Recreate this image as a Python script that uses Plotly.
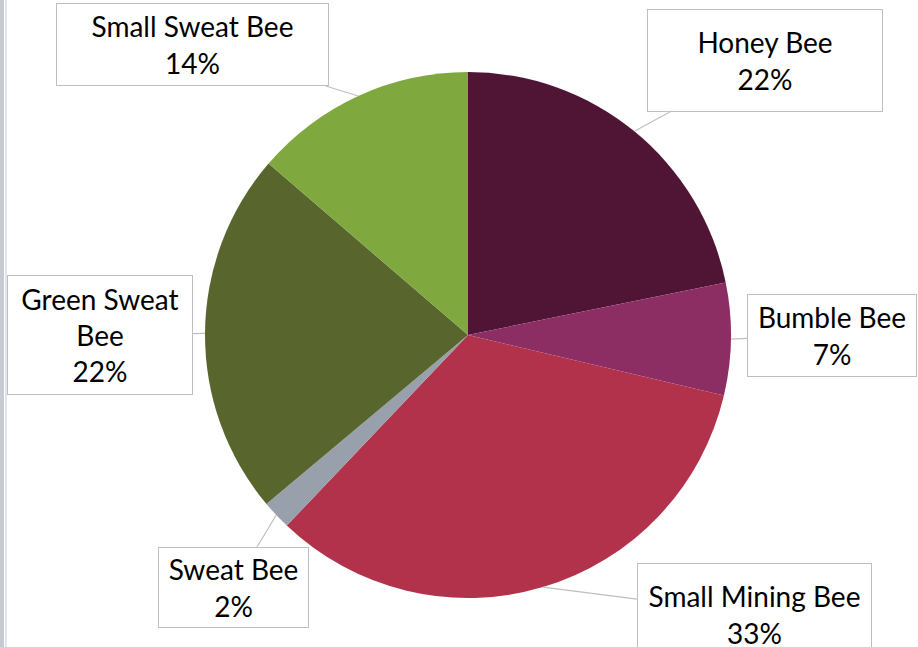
import numpy as np
import plotly.graph_objects as go

# bee share of visits (%), clockwise from 12 o'clock
bees = ["Honey Bee", "Bumble Bee", "Small Mining Bee", "Sweat Bee", "Green Sweat Bee", "Small Sweat Bee"]
share = [21.8, 6.9, 33.4, 1.8, 22.4, 13.7]
colors = ["#501535", "#8c2e64", "#b2324c", "#98a1ab", "#58662e", "#7fa83f"]
box_text = ["Honey Bee", "Bumble Bee", "Small Mining Bee", "Sweat Bee", "Green Sweat<br>Bee", "Small Sweat Bee"]

W, H = 918, 647
cx, cy, r = 468, 335, 263  # pie centre / radius in px

# callout boxes: centre x, centre y, width, height (px)
boxes = [
    (765, 60, 236, 103),
    (832, 335, 170, 83),
    (754, 614, 235, 103),
    (233, 587, 151, 81),
    (100, 335, 186, 120),
    (192, 45, 273, 83),
]

fig = go.Figure(go.Pie(
    labels=bees, values=share, sort=False, direction="clockwise", rotation=0,
    marker=dict(colors=colors, line=dict(width=0)), textinfo="none", hoverinfo="label+percent",
    domain=dict(x=[(cx - r) / W, (cx + r) / W], y=[(H - cy - r) / H, (H - cy + r) / H]),
    showlegend=False,
))

total = sum(share)
cum = np.cumsum([0] + share)
for i, name in enumerate(bees):
    mid = (cum[i] + share[i] / 2) / total * 2 * np.pi
    tx, ty = cx + r * np.sin(mid), cy - r * np.cos(mid)
    bx, by, bw, bh = boxes[i]
    pct = round(share[i] / total * 100)
    fig.add_annotation(
        x=tx / W, y=1 - ty / H, xref="paper", yref="paper",
        ax=bx - tx, ay=by - ty, axref="pixel", ayref="pixel",
        text=f"{box_text[i]}<br>{pct}%", showarrow=True, arrowhead=0, arrowwidth=1.2,
        arrowcolor="#bfbfbf", standoff=0,
        width=bw - 2, height=bh - 2, bgcolor="white", bordercolor="#bfbfbf", borderwidth=1, borderpad=0,
        font=dict(family="Lato", size=28, color="black"), align="center", valign="middle",
    )

# grey strip on the left edge
fig.add_shape(type="rect", xref="paper", yref="paper", x0=0, x1=4 / W, y0=0, y1=1,
              fillcolor="#c5cbd0", line=dict(width=0))
fig.add_shape(type="line", xref="paper", yref="paper", x0=6 / W, x1=6 / W, y0=0, y1=1,
              line=dict(color="#c5cbd0", width=1))

fig.update_layout(width=W, height=H, margin=dict(l=0, r=0, t=0, b=0),
                  paper_bgcolor="white", plot_bgcolor="white")
# drop the default body margin so the figure sits at the page corner
fig.write_html("out.html", config={"displayModeBar": False},
               post_script="document.body.style.margin='0';")
